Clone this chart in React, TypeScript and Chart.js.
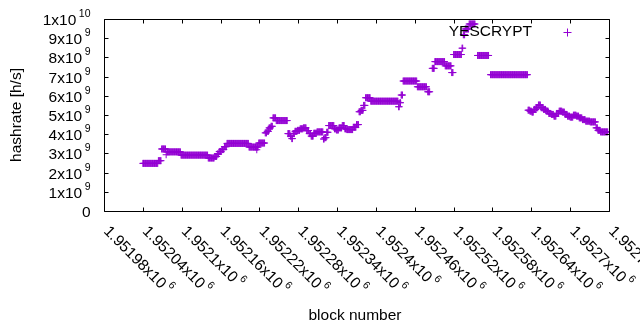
import React, { useEffect, useRef } from "react";
import { Chart, registerables } from "chart.js";

Chart.register(...registerables);

// ---- data: runs of constant hashrate (first block, last block, hashrate in h/s)
const runStartBlocks = [
  1952040, 1952064, 1952069, 1952076, 1952077, 1952099, 1952141, 1952151, 1952155, 1952158,
  1952162, 1952166, 1952170, 1952204, 1952216, 1952219, 1952229, 1952232, 1952235, 1952238,
  1952241, 1952246, 1952264, 1952268, 1952270, 1952272, 1952275, 1952279, 1952283, 1952288,
  1952293, 1952297, 1952300, 1952304, 1952309, 1952319, 1952321, 1952324, 1952327, 1952336,
  1952339, 1952343, 1952348, 1952352, 1952355, 1952365, 1952370, 1952374, 1952377, 1952381,
  1952384, 1952392, 1952435, 1952437, 1952439, 1952442, 1952464, 1952480, 1952487, 1952491,
  1952507, 1952517, 1952520, 1952533, 1952535, 1952538, 1952544, 1952557, 1952577, 1952635,
  1952638, 1952641, 1952644, 1952648, 1952651, 1952655, 1952659, 1952663, 1952667, 1952671,
  1952675, 1952679, 1952683, 1952688, 1952692, 1952696, 1952700, 1952705, 1952710, 1952714,
  1952719, 1952724, 1952731, 1952740, 1952743, 1952747,
];
const runEndBlocks = [
  1952063, 1952068, 1952075, 1952076, 1952098, 1952140, 1952150, 1952154, 1952157, 1952161,
  1952165, 1952169, 1952203, 1952218, 1952216, 1952228, 1952231, 1952234, 1952237, 1952240,
  1952245, 1952263, 1952267, 1952269, 1952271, 1952274, 1952278, 1952282, 1952287, 1952292,
  1952296, 1952299, 1952303, 1952308, 1952318, 1952320, 1952323, 1952326, 1952335, 1952338,
  1952342, 1952347, 1952351, 1952354, 1952364, 1952369, 1952373, 1952376, 1952380, 1952383,
  1952391, 1952434, 1952436, 1952438, 1952441, 1952463, 1952478, 1952483, 1952490, 1952506,
  1952516, 1952519, 1952532, 1952534, 1952537, 1952543, 1952553, 1952574, 1952634, 1952637,
  1952640, 1952643, 1952647, 1952650, 1952654, 1952658, 1952662, 1952666, 1952670, 1952674,
  1952678, 1952682, 1952687, 1952691, 1952695, 1952699, 1952704, 1952709, 1952713, 1952718,
  1952723, 1952730, 1952739, 1952742, 1952746, 1952758,
];
const runHashrates = [
  2.48e9, 2.62e9, 3.23e9, 2.93e9, 3.08e9, 2.91e9, 2.76e9, 2.84e9, 2.97e9, 3.1e9,
  3.2e9, 3.35e9, 3.52e9, 3.33e9, 3.19e9, 3.54e9, 4.07e9, 4.15e9, 4.33e9, 4.41e9,
  4.85e9, 4.71e9, 4.03e9, 3.9e9, 3.77e9, 4.03e9, 4.15e9, 4.2e9, 4.28e9, 4.33e9,
  4.19e9, 4.03e9, 3.9e9, 4.05e9, 4.12e9, 3.75e9, 3.82e9, 4.1e9, 4.45e9, 4.28e9,
  4.22e9, 4.33e9, 4.45e9, 4.28e9, 4.24e9, 4.36e9, 4.5e9, 5.17e9, 5.24e9, 5.5e9,
  5.9e9, 5.72e9, 5.43e9, 5.64e9, 6.04e9, 6.77e9, 6.47e9, 6.21e9, 7.43e9, 7.78e9,
  7.56e9, 7.21e9, 8.15e9, 8.48e9, 9.18e9, 9.48e9, 9.74e9, 8.1e9, 7.1e9, 5.25e9,
  5.2e9, 5.15e9, 5.29e9, 5.38e9, 5.52e9, 5.38e9, 5.29e9, 5.2e9, 5.08e9, 5.03e9,
  4.94e9, 5.08e9, 5.2e9, 5.15e9, 5.03e9, 4.94e9, 4.89e9, 4.99e9, 4.94e9, 4.85e9,
  4.76e9, 4.68e9, 4.64e9, 4.33e9, 4.2e9, 4.12e9,
];

const xTickValues = [
  1951980, 1952040, 1952100, 1952160, 1952220, 1952280, 1952340, 1952400,
  1952460, 1952520, 1952580, 1952640, 1952700, 1952760,
];
const yTickValues = [0, 1e9, 2e9, 3e9, 4e9, 5e9, 6e9, 7e9, 8e9, 9e9, 1e10];

const seriesLabel = "YESCRYPT";
const xTitle = "block number";
const yTitle = "hashrate [h/s]";

const COLOR = "#9400d3";
const FONT_FAMILY = '"Liberation Sans", Arial, sans-serif';
const MAIN_SIZE = 15.5;
const SUP_SIZE = 10.5;

function buildPoints() {
  const pts: { x: number; y: number }[] = [];
  for (let i = 0; i < runStartBlocks.length; i++) {
    for (let b = runStartBlocks[i]; b <= runEndBlocks[i]; b++) {
      pts.push({ x: b, y: runHashrates[i] });
    }
  }
  return pts;
}

function splitSci(v: number): [string, string] {
  if (v === 0) return ["0", ""];
  const e = Math.floor(Math.log10(v) + 1e-9);
  const m = parseFloat((v / Math.pow(10, e)).toFixed(6));
  return [`${m}x10`, `${e}`];
}

function xLabelParts(v: number): [string, string] {
  const m = parseFloat((v / 1e6).toFixed(6));
  return [`${m}x10`, "6"];
}

const gnuplotLook = {
  id: "gnuplotLook",
  afterDraw(chart: any) {
    const ctx = chart.ctx as CanvasRenderingContext2D;
    const xs = chart.scales.x;
    const ys = chart.scales.y;
    const area = chart.chartArea;
    const L = Math.round(area.left) + 0.5;
    const R = Math.round(area.right) + 0.5;
    const T = Math.round(area.top) + 0.5;
    const B = Math.round(area.bottom) + 0.5;
    const tick = 4;
    const mainFont = `${MAIN_SIZE}px ${FONT_FAMILY}`;
    const supFont = `${SUP_SIZE}px ${FONT_FAMILY}`;

    ctx.save();
    ctx.strokeStyle = "#000";
    ctx.lineWidth = 1;
    ctx.beginPath();
    ctx.rect(L, T, R - L, B - T);
    // y ticks (left and mirrored right)
    for (const v of yTickValues) {
      const y = Math.round(ys.getPixelForValue(v)) + 0.5;
      ctx.moveTo(L, y);
      ctx.lineTo(L + tick, y);
      ctx.moveTo(R, y);
      ctx.lineTo(R - tick, y);
    }
    for (const v of xTickValues) {
      const x = Math.round(xs.getPixelForValue(v)) + 0.5;
      ctx.moveTo(x, B);
      ctx.lineTo(x, B - tick);
      ctx.moveTo(x, T);
      ctx.lineTo(x, T + tick);
    }
    ctx.stroke();

    ctx.fillStyle = "#000";
    ctx.textBaseline = "alphabetic";
    ctx.textAlign = "left";
    const gap = 2.5;
    const rightX = 90.5;
    // y labels
    for (const v of yTickValues) {
      const y = ys.getPixelForValue(v);
      const [main, sup] = splitSci(v);
      ctx.font = mainFont;
      const wm = ctx.measureText(main).width;
      ctx.font = supFont;
      const ws = sup ? ctx.measureText(sup).width + gap : 0;
      const x0 = rightX - wm - ws;
      ctx.font = mainFont;
      ctx.fillText(main, x0, y + 6);
      if (sup) {
        ctx.font = supFont;
        ctx.fillText(sup, x0 + wm + gap, y - 2);
      }
    }
    // x labels rotated
    for (const v of xTickValues) {
      const x = xs.getPixelForValue(v);
      const [main, sup] = xLabelParts(v);
      ctx.save();
      ctx.translate(x - 1, 232);
      ctx.rotate(Math.PI / 4);
      ctx.font = mainFont;
      const wm = ctx.measureText(main).width;
      ctx.fillText(main, 0, 0);
      ctx.font = supFont;
      ctx.fillText(sup, wm + gap, -8);
      ctx.restore();
    }
    // axis titles
    ctx.font = mainFont;
    ctx.textAlign = "center";
    ctx.textBaseline = "middle";
    ctx.fillText(xTitle, 355, 316);
    ctx.save();
    ctx.translate(17, 115);
    ctx.rotate(-Math.PI / 2);
    ctx.fillText(yTitle, 0, 0);
    ctx.restore();
    // key
    ctx.textAlign = "right";
    ctx.fillText(seriesLabel, 532, 31.5);
    ctx.strokeStyle = COLOR;
    ctx.beginPath();
    ctx.moveTo(563.5, 32.5);
    ctx.lineTo(571.5, 32.5);
    ctx.moveTo(567.5, 28.5);
    ctx.lineTo(567.5, 36.5);
    ctx.stroke();
    ctx.restore();
  },
};

export default function App() {
  const ref = useRef<HTMLCanvasElement | null>(null);
  useEffect(() => {
    if (!ref.current) return;
    const chart = new Chart(ref.current, {
      type: "scatter",
      data: {
        datasets: [
          {
            label: seriesLabel,
            data: buildPoints(),
            pointStyle: "cross",
            pointRadius: 3.5,
            pointHoverRadius: 3.5,
            pointBorderWidth: 1,
            borderColor: COLOR,
            backgroundColor: COLOR,
            showLine: false,
          },
        ],
      },
      options: {
        animation: false,
        responsive: false,
        devicePixelRatio: 1,
        events: [],
        layout: { padding: { left: 104, right: 31, top: 19, bottom: 119 } },
        scales: {
          x: {
            type: "linear",
            display: false,
            min: xTickValues[0],
            max: xTickValues[xTickValues.length - 1],
            ticks: { stepSize: 60 },
          },
          y: {
            type: "linear",
            display: false,
            min: yTickValues[0],
            max: yTickValues[yTickValues.length - 1],
            ticks: { stepSize: 1e9 },
          },
        },
        plugins: { legend: { display: false }, tooltip: { enabled: false } },
      },
      plugins: [gnuplotLook],
    });
    return () => chart.destroy();
  }, []);
  return (
    <div style={{ position: "absolute", left: 0, top: 0, width: 640, height: 330, background: "#fff" }}>
      <canvas ref={ref} width={640} height={330} style={{ display: "block" }} />
    </div>
  );
}
